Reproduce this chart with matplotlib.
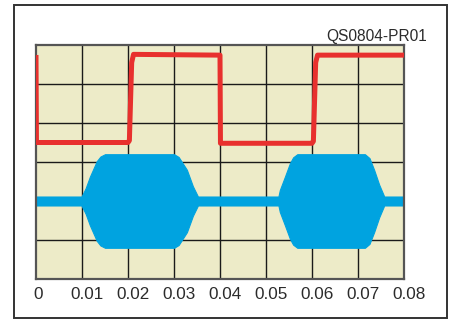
import matplotlib
matplotlib.use("Agg")
import matplotlib.pyplot as plt
from matplotlib.patches import Rectangle
from matplotlib.transforms import ScaledTranslation
import numpy as np

# ---- data (y in screen divisions, 0..6) ----
tick_values = [0, 0.01, 0.02, 0.03, 0.04, 0.05, 0.06, 0.07, 0.08]
tick_labels = ["0", "0.01", "0.02", "0.03", "0.04", "0.05", "0.06", "0.07", "0.08"]

red_t = [0.0, 0.0001, 0.0200, 0.0203, 0.0208, 0.0212, 0.0400, 0.0401, 0.0600, 0.0603, 0.0608, 0.0612, 0.0800]
red_v = [5.68, 3.50, 3.50, 3.55, 5.55, 5.76, 5.74, 3.48, 3.48, 3.53, 5.55, 5.74, 5.74]

blue_center = 2.0
blue_t = [0.0, 0.0099, 0.0108, 0.0117, 0.0132, 0.0140, 0.0150, 0.0300, 0.0310, 0.0328, 0.0341, 0.0352,
          0.0527, 0.0530, 0.0541, 0.0552, 0.0559, 0.0568, 0.0715, 0.0725, 0.0735, 0.0746, 0.0757, 0.0800]
blue_amp = [0.115, 0.115, 0.33, 0.62, 1.02, 1.14, 1.20, 1.20, 1.13, 0.80, 0.38, 0.115,
            0.115, 0.28, 0.62, 0.97, 1.12, 1.20, 1.20, 1.10, 0.80, 0.42, 0.115, 0.115]

RED = "#E8302E"
BLUE = "#00A3E0"
BG = "#EDEBC8"

fig = plt.figure(figsize=(4.52, 3.19), dpi=100)
plt.rcParams['font.family'] = ['Liberation Sans', 'DejaVu Sans']

ax = fig.add_axes([36/452, 40/319, 368/452, 234/319])
ax.set_facecolor(BG)
ax.set_xlim(0, 0.08)
ax.set_ylim(0, 6)

for x in tick_values[1:-1]:
    ax.axvline(x, color="#1a1a1a", lw=1.0, zorder=1)
for y in range(1, 6):
    ax.axhline(y, color="#1a1a1a", lw=1.0, zorder=1)

bt = np.array(blue_t)
ba = np.array(blue_amp)
ax.fill_between(bt, blue_center - ba, blue_center + ba, color=BLUE, lw=0.8,
                edgecolor=BLUE, zorder=2)

ax.plot(red_t, red_v, color=RED, lw=3.6, solid_joinstyle="round", zorder=3)

for s in ax.spines.values():
    s.set_color("#555555")
    s.set_linewidth(1.6)

ax.set_yticks([])
ax.set_xticks(tick_values)
ax.set_xticklabels(tick_labels, fontsize=12.3, color="#2b2b2b")
ax.tick_params(axis="x", length=0, pad=6)
for i, lab in enumerate(ax.get_xticklabels()):
    dx = 2/100 if i == 0 else 5/100
    lab.set_transform(lab.get_transform() + ScaledTranslation(dx, 0, fig.dpi_scale_trans))

fig.text(427/452, 1 - 41/319, "QS0804-PR01", ha="right", va="baseline",
         fontsize=11.2, color="#2b2b2b")

fig.patches.append(Rectangle((14/452, 1/319), 433/452, 313/319, transform=fig.transFigure,
                             fill=False, edgecolor="#333333", lw=1.4, zorder=10))

fig.savefig("out.png", dpi=100)
